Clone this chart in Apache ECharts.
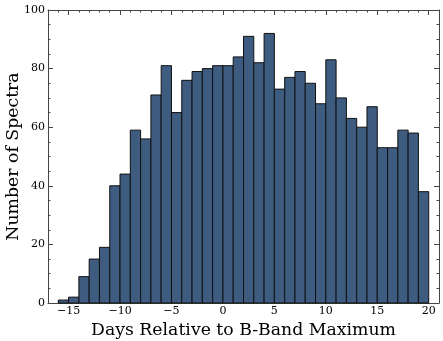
<!DOCTYPE html>
<html>
<head>
<meta charset="utf-8">
<script src="https://cdn.jsdelivr.net/npm/echarts@6/dist/echarts.min.js"></script>
<style>html,body{margin:0;padding:0;background:#fff;}#c{width:443px;height:341px;}</style>
</head>
<body>
<div id="c"></div>
<script>
// Histogram bins: left edge of each 1-day bin
const binStarts = [-16,-15,-14,-13,-12,-11,-10,-9,-8,-7,-6,-5,-4,-3,-2,-1,0,1,2,3,4,5,6,7,8,9,10,11,12,13,14,15,16,17,18,19];
const counts =    [1,2,9,15,19,40,44,59,56,71,81,65,76,79,80,81,81,84,91,82,92,73,77,79,75,68,83,70,63,60,67,53,53,59,58,38];
const xTickLabels = [-15,-10,-5,0,5,10,15,20];
const yTickLabels = [0,20,40,60,80,100];
const xTitle = 'Days Relative to B-Band Maximum';
const yTitle = 'Number of Spectra';

const FONT = 'DejaVu Serif';
const AX = '#444';
const gridBox = {left: 48, right: 4, top: 10, bottom: 38, containLabel: false, outerBoundsMode: 'none'};
const fmt = v => String(v).replace('-', '\u2212');

const majorX = (pos, labels) => ({
  type: 'value', gridIndex: 0, position: pos, min: -17, max: 21,
  axisLine: {show: true, onZero: false, lineStyle: {color: AX, width: 1}},
  axisTick: {show: true, inside: true, length: 5, customValues: xTickLabels, lineStyle: {color: AX}},
  axisLabel: labels ? {show: true, customValues: xTickLabels, formatter: fmt, fontFamily: FONT, fontSize: 11, color: '#000', margin: 3} : {show: false},
  splitLine: {show: false},
  name: labels ? xTitle : '', nameLocation: 'middle', nameGap: 17,
  nameTextStyle: {fontFamily: FONT, fontSize: 17.3, color: '#000'}
});
const minorX = (pos) => ({
  type: 'value', gridIndex: 1, position: pos, min: -17, max: 21, interval: 1,
  axisLine: {show: false, onZero: false},
  axisTick: {show: true, inside: true, length: 2.5, lineStyle: {color: AX}},
  axisLabel: {show: false}, splitLine: {show: false}
});
const yAx = (pos, labels) => ({
  type: 'value', gridIndex: 0, position: pos, min: 0, max: 100, interval: 20,
  axisLine: {show: true, onZero: false, lineStyle: {color: AX, width: 1}},
  axisTick: {show: true, inside: true, length: 5, lineStyle: {color: AX}},
  minorTick: {show: true, splitNumber: 4, length: 2.5, lineStyle: {color: AX}},
  axisLabel: labels ? {show: true, fontFamily: FONT, fontSize: 11, color: '#000', margin: 3} : {show: false},
  splitLine: {show: false}, minorSplitLine: {show: false},
  name: labels ? yTitle : '', nameLocation: 'middle', nameGap: 26, nameRotate: 90,
  nameMoveOverlap: false,
  nameTextStyle: {fontFamily: FONT, fontSize: 17.3, color: '#000'}
});

const chart = echarts.init(document.getElementById('c'), null, {renderer: 'canvas'});
chart.setOption({
  animation: false,
  backgroundColor: '#fff',
  grid: [Object.assign({}, gridBox), Object.assign({}, gridBox)],
  xAxis: [majorX('bottom', true), majorX('top', false), minorX('bottom'), minorX('top')],
  yAxis: [yAx('left', true), yAx('right', false),
          {type: 'value', gridIndex: 1, min: 0, max: 100, show: false},
          {type: 'value', gridIndex: 1, min: 0, max: 100, show: false, position: 'right'}],
  series: [{
    type: 'custom', xAxisIndex: 0, yAxisIndex: 0,
    data: binStarts.map((b, i) => [b, counts[i]]),
    renderItem: function (params, api) {
      const x0 = api.value(0), v = api.value(1);
      const p0 = api.coord([x0, v]);
      const p1 = api.coord([x0 + 1, 0]);
      return {
        type: 'rect',
        shape: {x: p0[0], y: p0[1], width: p1[0] - p0[0], height: p1[1] - p0[1]},
        style: {fill: '#3e5b80', stroke: '#111', lineWidth: 1}
      };
    }
  }]
});
</script>
</body>
</html>
